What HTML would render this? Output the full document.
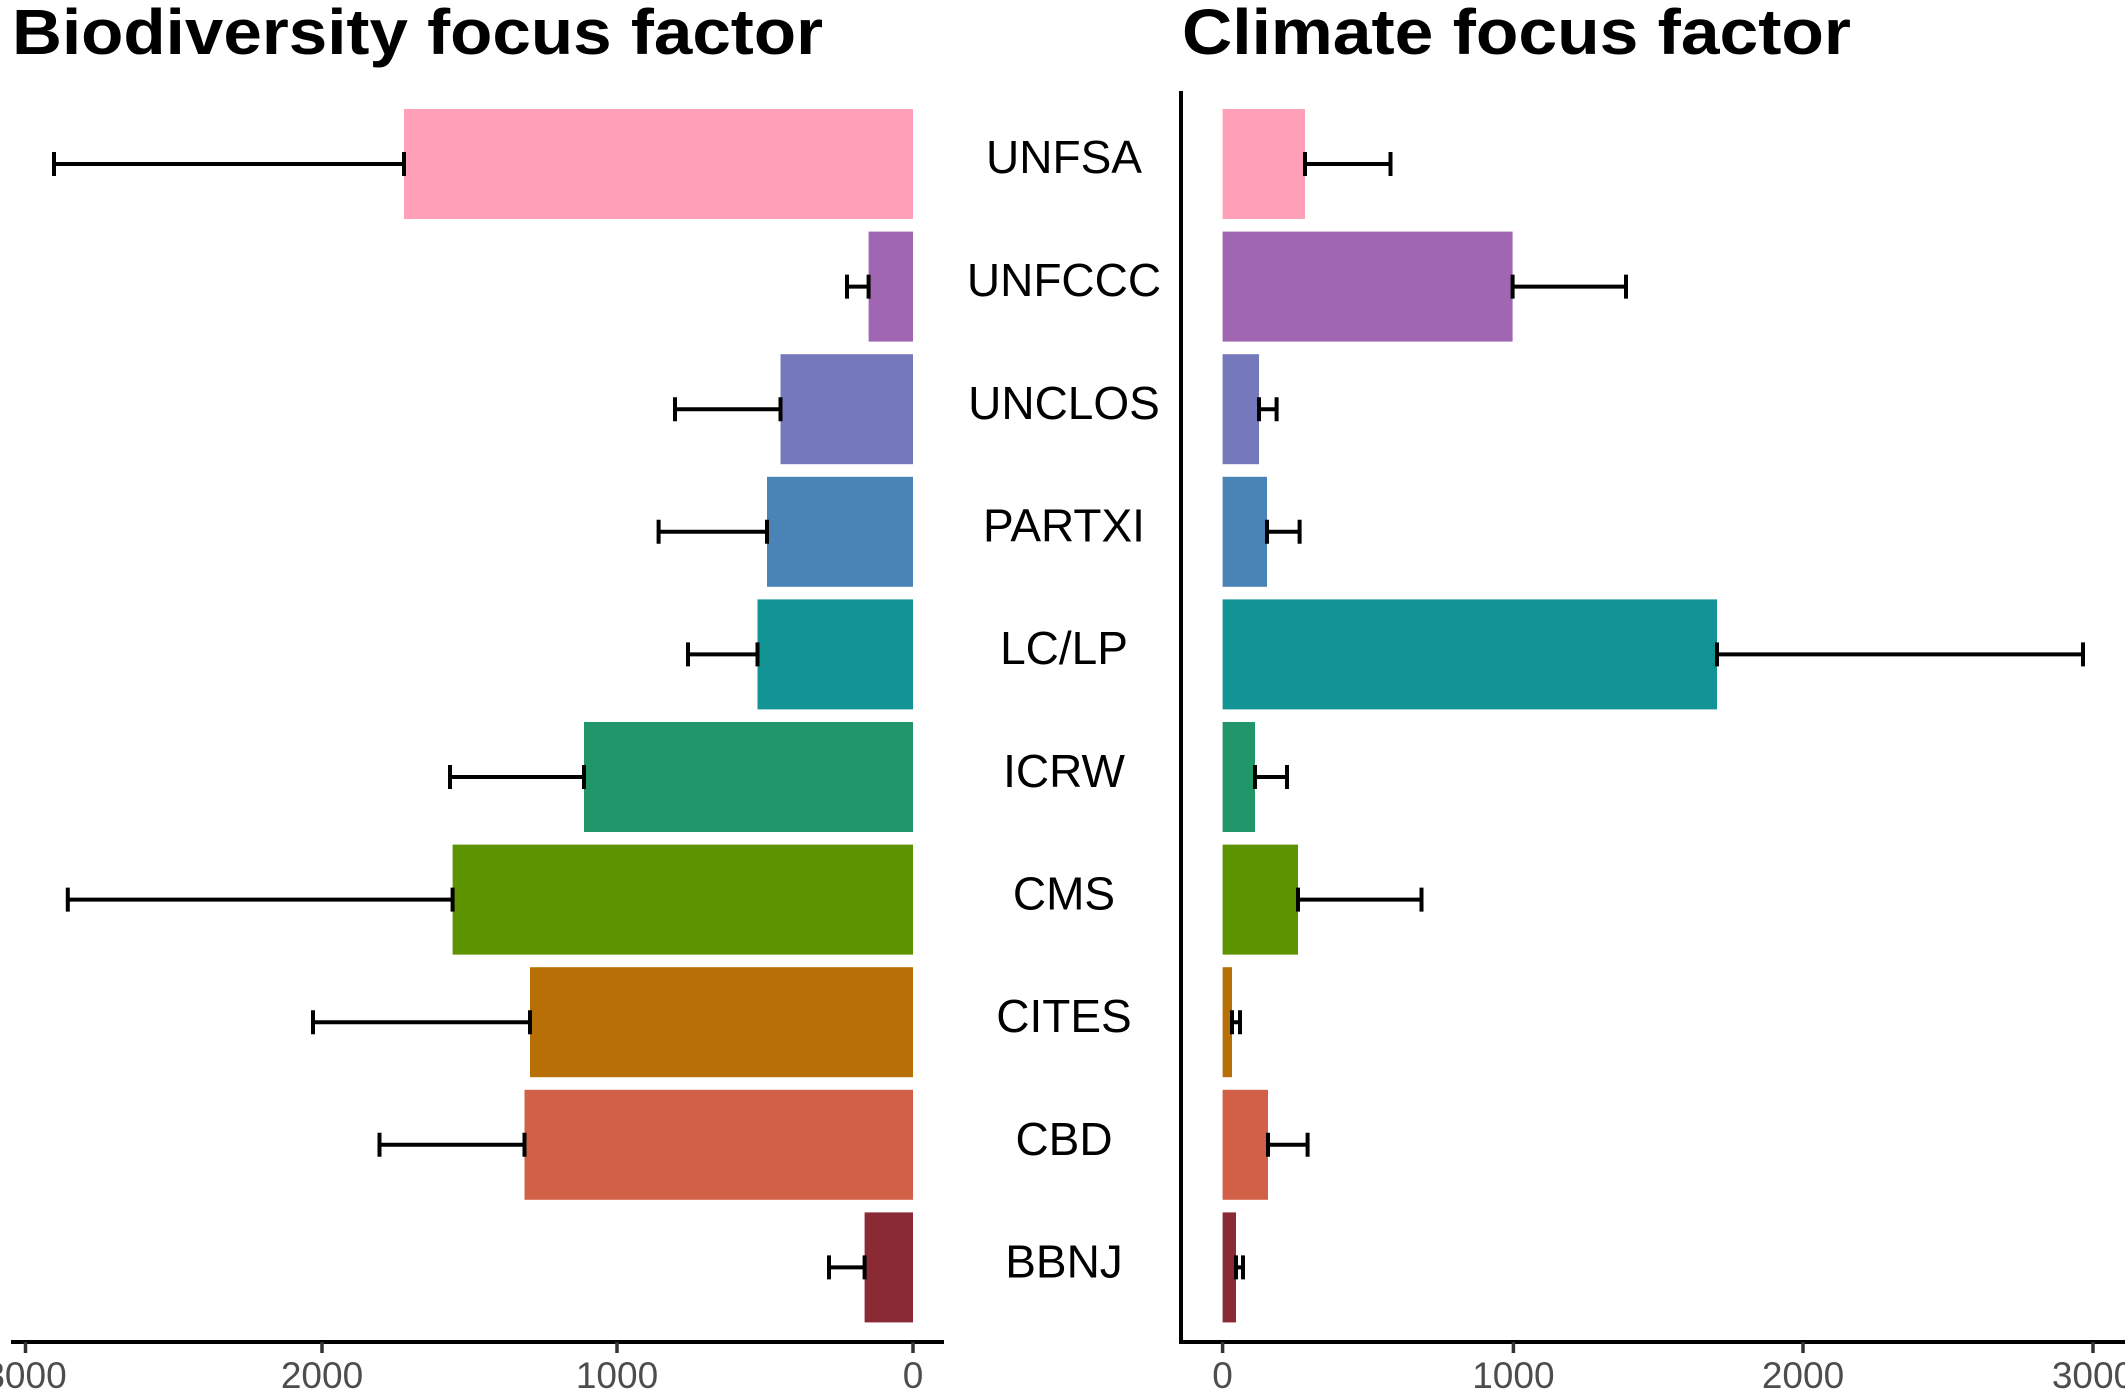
<!DOCTYPE html>
<html><head><meta charset="utf-8"><style>html,body{margin:0;padding:0;background:#fff}svg{display:block}</style></head>
<body>
<svg width="2125" height="1392" viewBox="0 0 2125 1392" xmlns="http://www.w3.org/2000/svg" font-family="Liberation Sans, Arial, sans-serif">
<rect width="2125" height="1392" fill="#fff"/>
<text x="12" y="54" font-size="64" font-weight="bold" textLength="811" lengthAdjust="spacingAndGlyphs">Biodiversity focus factor</text>
<text x="1182" y="54" font-size="64" font-weight="bold" textLength="669" lengthAdjust="spacingAndGlyphs">Climate focus factor</text>
<g>
<rect x="404" y="109" width="509" height="110" fill="#FF9FB8"/>
<rect x="868.6" y="231.6" width="44.4" height="110" fill="#A066B2"/>
<rect x="780.5" y="354.2" width="132.5" height="110" fill="#7678BC"/>
<rect x="767" y="476.8" width="146" height="110" fill="#4A83B6"/>
<rect x="757.5" y="599.4" width="155.5" height="110" fill="#129495"/>
<rect x="584" y="722" width="329" height="110" fill="#22966B"/>
<rect x="452.6" y="844.6" width="460.4" height="110" fill="#5E9300"/>
<rect x="530" y="967.2" width="383" height="110" fill="#B86F05"/>
<rect x="524.5" y="1089.8" width="388.5" height="110" fill="#D26047"/>
<rect x="864.6" y="1212.4" width="48.4" height="110" fill="#8A2A35"/>

<rect x="1222.6" y="109" width="82.4" height="110" fill="#FF9FB8"/>
<rect x="1222.6" y="231.6" width="290" height="110" fill="#A066B2"/>
<rect x="1222.6" y="354.2" width="36.4" height="110" fill="#7678BC"/>
<rect x="1222.6" y="476.8" width="44.4" height="110" fill="#4A83B6"/>
<rect x="1222.6" y="599.4" width="494.4" height="110" fill="#129495"/>
<rect x="1222.6" y="722" width="32.4" height="110" fill="#22966B"/>
<rect x="1222.6" y="844.6" width="75.4" height="110" fill="#5E9300"/>
<rect x="1222.6" y="967.2" width="9.4" height="110" fill="#B86F05"/>
<rect x="1222.6" y="1089.8" width="45.4" height="110" fill="#D26047"/>
<rect x="1222.6" y="1212.4" width="13.4" height="110" fill="#8A2A35"/>
</g>
<g stroke="#000" stroke-width="4" fill="none">
<path d="M54 164H404M54 152V176M404 152V176"/>
<path d="M847 286.6H868.6M847 274.6V298.6M868.6 274.6V298.6"/>
<path d="M675 409.2H780.5M675 397.2V421.2M780.5 397.2V421.2"/>
<path d="M658.6 531.8H767M658.6 519.8V543.8M767 519.8V543.8"/>
<path d="M688 654.4H757.5M688 642.4V666.4M757.5 642.4V666.4"/>
<path d="M450 777H584M450 765V789M584 765V789"/>
<path d="M67.8 899.6H452.6M67.8 887.6V911.6M452.6 887.6V911.6"/>
<path d="M313 1022.2H530M313 1010.2V1034.2M530 1010.2V1034.2"/>
<path d="M379.5 1144.8H524.5M379.5 1132.8V1156.8M524.5 1132.8V1156.8"/>
<path d="M829 1267.4H864.6M829 1255.4V1279.4M864.6 1255.4V1279.4"/>

<path d="M1305 164H1390.5M1305 152V176M1390.5 152V176"/>
<path d="M1512.6 286.6H1626M1512.6 274.6V298.6M1626 274.6V298.6"/>
<path d="M1259 409.2H1276.6M1259 397.2V421.2M1276.6 397.2V421.2"/>
<path d="M1267 531.8H1299.6M1267 519.8V543.8M1299.6 519.8V543.8"/>
<path d="M1717 654.4H2083M1717 642.4V666.4M2083 642.4V666.4"/>
<path d="M1255 777H1287M1255 765V789M1287 765V789"/>
<path d="M1298 899.6H1421.5M1298 887.6V911.6M1421.5 887.6V911.6"/>
<path d="M1232 1022.2H1240M1232 1010.2V1034.2M1240 1010.2V1034.2"/>
<path d="M1268 1144.8H1307.6M1268 1132.8V1156.8M1307.6 1132.8V1156.8"/>
<path d="M1236 1267.4H1243M1236 1255.4V1279.4M1243 1255.4V1279.4"/>
</g>
<g font-size="46" text-anchor="middle" fill="#000">
<text x="1064" y="173">UNFSA</text>
<text x="1064" y="296">UNFCCC</text>
<text x="1064" y="419">UNCLOS</text>
<text x="1064" y="541.5">PARTXI</text>
<text x="1064" y="664">LC/LP</text>
<text x="1064" y="787">ICRW</text>
<text x="1064" y="909.5">CMS</text>
<text x="1064" y="1032">CITES</text>
<text x="1064" y="1155">CBD</text>
<text x="1064" y="1277.5">BBNJ</text>
</g>
<g stroke="#000" stroke-width="4" fill="none">
<path d="M11 1342H944"/>
<path d="M1181 91V1344M1179 1342H2125"/>
</g>
<g stroke="#333" stroke-width="3.5">
<path d="M25.5 1342V1353M322 1342V1353M617 1342V1353M913 1342V1353"/>
<path d="M1222.6 1342V1353M1513.4 1342V1353M1803 1342V1353M2093 1342V1353"/>
</g>
<g font-size="37" fill="#4d4d4d" text-anchor="middle">
<text x="25.5" y="1388">3000</text>
<text x="322" y="1388">2000</text>
<text x="617" y="1388">1000</text>
<text x="913" y="1388">0</text>
<text x="1222.6" y="1388">0</text>
<text x="1513.4" y="1388">1000</text>
<text x="1803" y="1388">2000</text>
<text x="2093" y="1388">3000</text>
</g>
</svg>
</body></html>
